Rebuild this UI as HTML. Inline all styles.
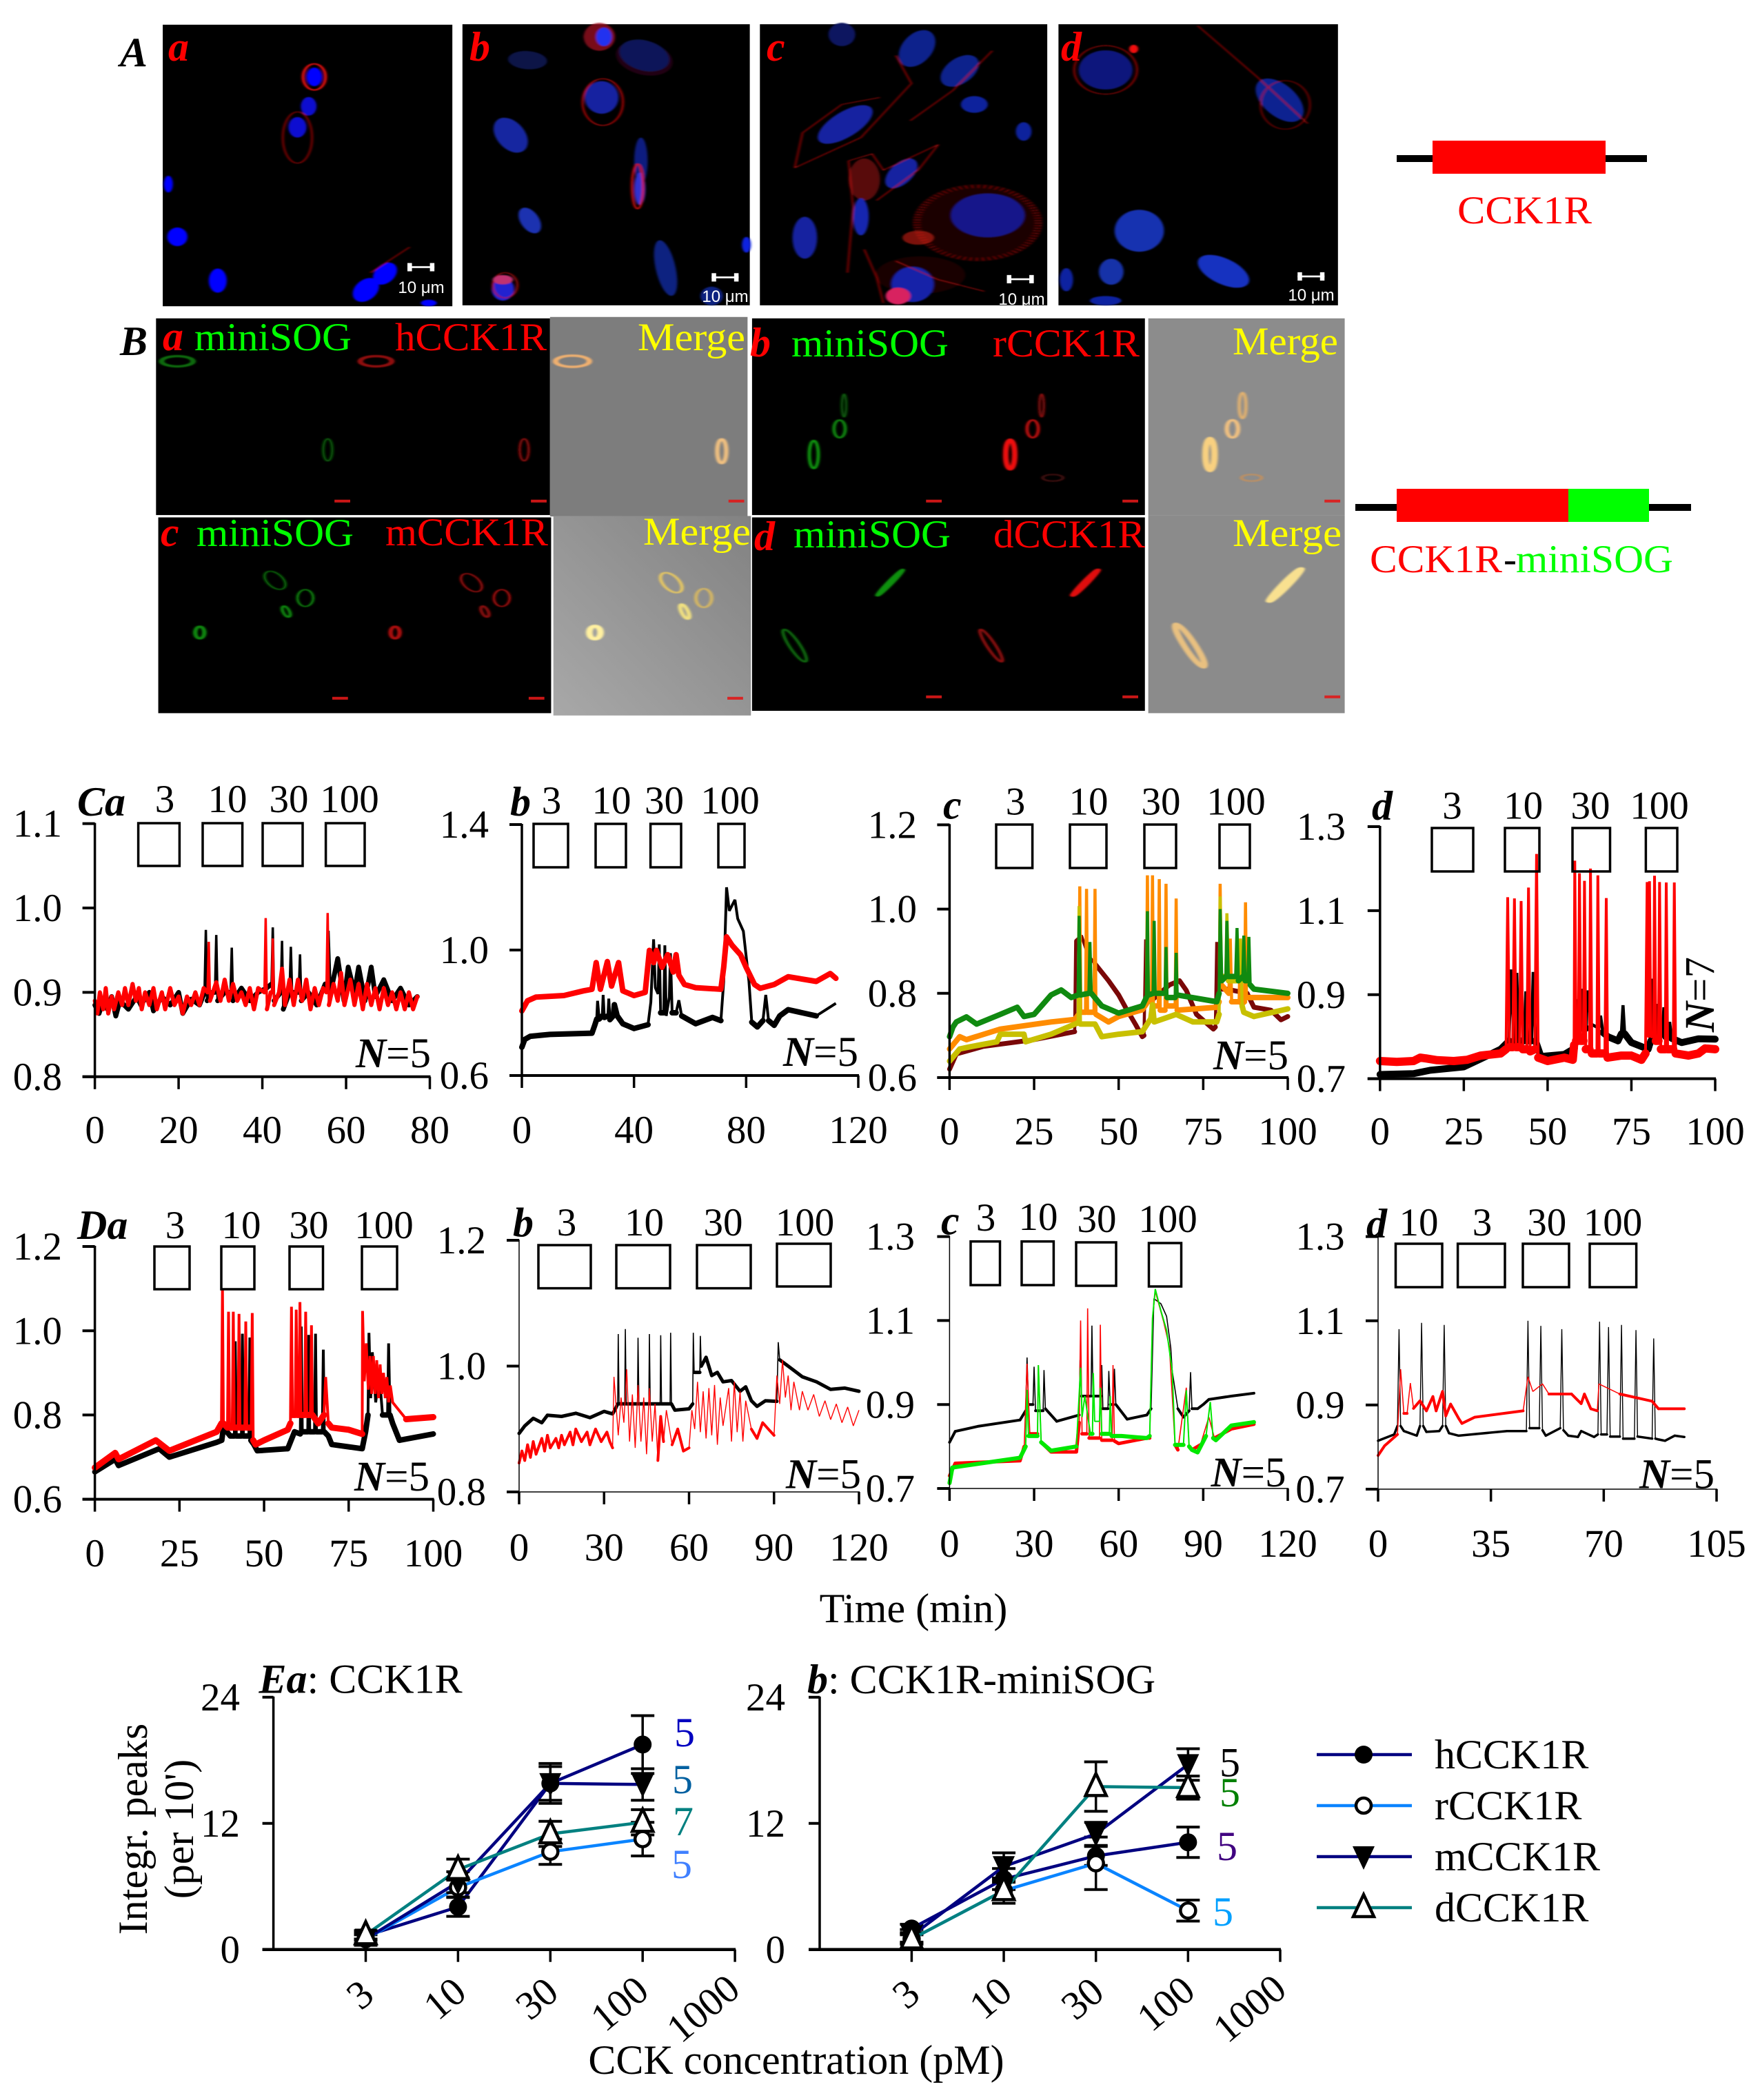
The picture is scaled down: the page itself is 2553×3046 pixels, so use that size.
<!DOCTYPE html>
<html lang="en">
<head>
<meta charset="utf-8">
<title>CCK1R and CCK1R-miniSOG figure</title>
<style>
html,body{margin:0;padding:0;background:#fff}
svg{display:block}
text{font-family:"Liberation Serif",serif;fill:#000}
.big{font-size:57px}
.let{font-size:60px;font-weight:bold;font-style:italic}
.sans{font-family:"Liberation Sans",sans-serif;font-size:24px;fill:#fff}
</style>
</head>
<body>
<svg id="figure" xmlns="http://www.w3.org/2000/svg" width="2553" height="3046" viewBox="0 0 2553 3046">
<defs>
<filter id="soft" x="-20%" y="-20%" width="140%" height="140%"><feGaussianBlur stdDeviation="1.1"/></filter>
<linearGradient id="mergeC" x1="1" y1="0" x2="0" y2="1"><stop offset="0" stop-color="#828282"/><stop offset="1" stop-color="#a8a8a8"/></linearGradient>
</defs>
<rect width="2553" height="3046" fill="#fff"/>
<g id="micro" transform="scale(1.6282,0.6761)"></g>

<g>
<text class="let" x="174" y="96">A</text>
<text class="let" x="244" y="88" style="fill:#f00">a</text>
<text class="let" x="681" y="88" style="fill:#f00">b</text>
<text class="let" x="1112" y="88" style="fill:#f00">c</text>
<text class="let" x="1539" y="88" style="fill:#f00">d</text>
<text class="sans" x="611" y="425" text-anchor="middle">10 μm</text>
<text class="sans" x="1052" y="438" text-anchor="middle">10 μm</text>
<text class="sans" x="1482" y="442" text-anchor="middle">10 μm</text>
<text class="sans" x="1902" y="436" text-anchor="middle">10 μm</text>
</g>

<g>
<text class="let" x="174" y="515">B</text>
<text class="let" x="236" y="508" style="fill:#f00">a</text>
<text class="big" x="282" y="508" textLength="228" lengthAdjust="spacingAndGlyphs" style="fill:#0f0">miniSOG</text>
<text class="big" x="573" y="508" textLength="220" lengthAdjust="spacingAndGlyphs" style="fill:#f00">hCCK1R</text>
<text class="big" x="925" y="508" textLength="156" lengthAdjust="spacingAndGlyphs" style="fill:#ff0">Merge</text>
<text class="let" x="1088" y="517" style="fill:#f00">b</text>
<text class="big" x="1148" y="517" textLength="228" lengthAdjust="spacingAndGlyphs" style="fill:#0f0">miniSOG</text>
<text class="big" x="1440" y="517" textLength="213" lengthAdjust="spacingAndGlyphs" style="fill:#f00">rCCK1R</text>
<text class="big" x="1788" y="514" textLength="153" lengthAdjust="spacingAndGlyphs" style="fill:#ff0">Merge</text>
<text class="let" x="233" y="792" style="fill:#f00">c</text>
<text class="big" x="285" y="792" textLength="228" lengthAdjust="spacingAndGlyphs" style="fill:#0f0">miniSOG</text>
<text class="big" x="559" y="791" textLength="236" lengthAdjust="spacingAndGlyphs" style="fill:#f00">mCCK1R</text>
<text class="big" x="933" y="790" textLength="156" lengthAdjust="spacingAndGlyphs" style="fill:#ff0">Merge</text>
<text class="let" x="1094" y="798" style="fill:#f00">d</text>
<text class="big" x="1151" y="794" textLength="228" lengthAdjust="spacingAndGlyphs" style="fill:#0f0">miniSOG</text>
<text class="big" x="1441" y="794" textLength="220" lengthAdjust="spacingAndGlyphs" style="fill:#f00">dCCK1R</text>
<text class="big" x="1788" y="792" textLength="158" lengthAdjust="spacingAndGlyphs" style="fill:#ff0">Merge</text>
</g>

<g>
<rect x="2026" y="225" width="363" height="10" fill="#000"/>
<rect x="2078" y="204" width="251" height="48" fill="#f00"/>
<text class="big" x="2114" y="324" textLength="195" lengthAdjust="spacingAndGlyphs" style="fill:#f00">CCK1R</text>
</g>
<g>
<rect x="1966" y="731" width="487" height="10" fill="#000"/>
<rect x="2026" y="709" width="249" height="48" fill="#f00"/>
<rect x="2275" y="709" width="117" height="48" fill="#0f0"/>
<text class="big" x="1987" y="830" textLength="192" lengthAdjust="spacingAndGlyphs" style="fill:#f00">CCK1R</text>
<text class="big" x="2181" y="830">-</text>
<text class="big" x="2199" y="830" textLength="228" lengthAdjust="spacingAndGlyphs" style="fill:#0f0">miniSOG</text>
</g>

<g id="traces"></g>
<text x="1325" y="2353" text-anchor="middle" font-size="60">Time (min)</text>
<g id="dose"></g>
</svg>

<script>
/* ---------- Trace data: [time (min), normalised ratio] ---------- */
const caXTicks=['0','20','40','60','80'];
const caYTicks=['0.8','0.9','1.0','1.1'];
const caBlack=[[0,.885],[1,.875],[2,.89],[3,.88],[4,.895],[5,.872],[6,.89],[8,.88],[10,.895],[11,.885],[13,.9],[14,.878],[16,.895],[18,.885],[20,.9],[21,.875],[23,.892],[25,.885],[26.2,.9],[26.5,.974],[26.8,.89],[28,.9],[28.7,.9],[29,.968],[29.3,.89],[31,.9],[32.4,.9],[32.7,.953],[33,.89],[35,.905],[37,.89],[39,.9],[41,.905],[42.2,.91],[42.5,.977],[42.8,.89],[44.4,.9],[44.7,.961],[45,.88],[46.5,.9],[46.8,.954],[47.1,.9],[48.7,.9],[49,.945],[49.3,.89],[51,.9],[53,.885],[55,.91],[55.5,.91],[55.8,.973],[56.3,.9],[58,.94],[59.5,.89],[60.5,.93],[62,.9],[63,.93],[64.5,.89],[66,.93],[67,.895],[69,.915],[71,.89],[73,.905],[75,.885],[77,.895]];
const caRed=[[0,.89],[.6,.875],[1.2,.9],[2,.88],[2.6,.905],[3.2,.875],[4,.895],[4.6,.88],[5.6,.9],[6.5,.885],[7.2,.905],[8,.885],[9,.91],[9.8,.89],[10.5,.905],[11.2,.88],[12,.9],[13,.885],[14,.905],[14.8,.88],[16,.9],[16.8,.88],[18,.905],[19,.885],[20,.895],[21,.875],[22,.895],[23,.885],[24,.9],[25,.885],[26,.905],[26.9,.9],[27.2,.96],[27.5,.89],[29,.912],[30,.89],[31,.915],[32,.89],[33,.91],[34,.89],[35,.9],[36,.885],[37,.905],[38,.88],[39,.905],[40.5,.9],[40.8,.988],[41.1,.88],[42,.9],[42.3,.9],[42.5,.964],[42.8,.885],[44,.9],[44.7,.928],[45.4,.885],[46.5,.915],[47.5,.885],[48.5,.915],[49.5,.89],[50.5,.915],[51.5,.88],[52.5,.905],[53.5,.885],[54.5,.905],[55.3,.9],[55.6,.994],[55.9,.885],[57,.91],[58,.89],[58.8,.923],[59.6,.885],[61,.915],[62,.885],[63,.91],[64,.88],[65,.91],[66,.885],[67,.905],[68,.88],[69,.905],[70,.885],[71,.9],[72,.88],[73,.9],[74,.88],[75,.9],[76,.88],[77,.895]];

const cbXTicks=['0','40','80','120'];
const cbYTicks=['0.6','1.0','1.4'];
const cbBlack=[[0,.69],[1,.715],[3,.725],[10,.731],[25,.735],[26,.76],[26.7,.78],[27,.838],[27.6,.78],[28.7,.79],[29,.857],[29.4,.785],[30.7,.79],[31,.845],[31.4,.778],[32.6,.79],[33,.826],[34,.79],[36,.765],[40,.75],[45,.762],[46,.834],[47,1.034],[47.6,.88],[48.6,.86],[49,1.018],[49.5,.80],[50.6,.80],[51,1.015],[51.5,.79],[52.6,.85],[53,.99],[53.6,.80],[55,.80],[56,.84],[57,.79],[60,.775],[62,.765],[68,.785],[71,.775],[72,.90],[73,1.2],[74,1.125],[76,1.16],[77,1.10],[79,1.06],[81,.90],[82,.77],[84,.755],[86,.775],[87,.857],[88,.775],[90,.76],[92,.79],[95,.81],[105,.79],[112,.83]];
const cbRed=[[0,.806],[2,.838],[5,.85],[15,.855],[22,.87],[25,.875],[26.5,.96],[28,.875],[30.5,.963],[32,.885],[34.5,.96],[36,.87],[40,.855],[44,.865],[45.5,.999],[47,.96],[48,.999],[50,.945],[52,.985],[54,.93],[55,.985],[56,.92],[58,.89],[62,.88],[71,.875],[72,.945],[73,1.042],[75,1.015],[78,.985],[80,.945],[83,.89],[85,.878],[90,.89],[95,.915],[105,.90],[110,.925],[112,.91]];

const ccXTicks=['0','25','50','75','100'];
const ccYTicks=['0.6','0.8','1.0','1.2'];
const ccDarkRed=[[0,.62],[2,.656],[10,.674],[25,.69],[37,.709],[37.3,.925],[39,.937],[41,.89],[43,.87],[47,.83],[50,.796],[52,.767],[55,.726],[57,.697],[57.5,.70],[58,.928],[58.5,.785],[60,.785],[65,.82],[68,.83],[70,.807],[73,.75],[78,.715],[78.6,.72],[79,.922],[79.6,.81],[82,.81],[88,.80],[90,.767],[95,.76],[98,.737],[100,.745]];
const ccOrange=[[0,.668],[3,.697],[5,.69],[15,.715],[30,.732],[37,.738],[38.2,.75],[38.5,1.054],[38.8,.755],[40.2,.755],[40.5,1.048],[40.8,.755],[42.7,.755],[43,1.048],[43.3,.75],[47,.732],[50,.745],[57,.761],[58.2,.775],[58.5,1.08],[58.8,.78],[59.7,.785],[60,1.08],[60.3,.77],[61.7,.77],[62,1.071],[62.3,.76],[63.7,.76],[64,1.06],[64.3,.77],[66.7,.77],[67,1.025],[67.3,.76],[79,.767],[79.7,.78],[80,1.06],[80.4,.82],[82.6,.80],[83,.93],[83.4,.78],[85.6,.78],[86,.93],[86.4,.775],[87.2,.78],[87.5,1.016],[87.8,.79],[100,.79]];
const ccGreen=[[0,.697],[1,.72],[2,.732],[5,.744],[8,.727],[15,.75],[20,.767],[22,.745],[25,.75],[30,.796],[33,.808],[36,.79],[38,.796],[38.3,.984],[38.7,.796],[41.2,.80],[41.5,.922],[41.9,.80],[45,.77],[50,.753],[57,.77],[58.2,.79],[58.5,.995],[58.8,.796],[60.2,.80],[60.5,.972],[60.8,.80],[63.7,.80],[64,.91],[64.3,.79],[66.7,.79],[67,.896],[67.3,.796],[79,.78],[79.7,.80],[80,1.0],[80.5,.83],[81.7,.84],[82,.972],[82.4,.84],[84.6,.84],[85,.955],[85.4,.83],[86.7,.84],[87,.937],[87.4,.83],[88.2,.83],[88.5,.934],[88.9,.82],[90,.81],[100,.80]];
const ccYellow=[[0,.639],[3,.668],[6,.673],[14,.685],[15,.703],[22,.703],[22.5,.685],[30,.703],[38,.73],[38.3,1.007],[38.7,.727],[43,.727],[45,.697],[50,.703],[57,.709],[59.5,.74],[60,.773],[60.5,.732],[67,.75],[72,.732],[79,.732],[79.7,.75],[80,1.03],[80.4,.84],[81.7,.84],[82,.99],[82.5,.83],[85.7,.83],[86,.93],[86.5,.77],[87,.755],[90,.745],[100,.763]];

const cdXTicks=['0','25','50','75','100'];
const cdYTicks=['0.7','0.9','1.1','1.3'];
const cdBlack=[[0,.71],[10,.712],[15,.72],[25,.728],[30,.747],[36,.77],[38.5,.79],[39,.96],[40,.79],[40.5,.79],[40.8,.952],[41.3,.79],[43,.79],[43.5,.908],[44,.79],[45.2,.79],[45.7,.954],[46.4,.79],[48,.753],[55,.758],[58,.772],[58.6,.889],[59.2,.80],[59.7,.80],[60,.914],[60.5,.82],[61.5,.82],[61.9,.91],[63,.83],[65.3,.82],[65.8,.85],[66.5,.81],[68,.80],[71,.79],[72,.807],[72.5,.875],[73,.807],[75,.786],[80,.77],[80.8,.79],[81.2,.938],[81.8,.80],[82.3,.80],[82.6,.878],[83,.80],[84.3,.81],[84.7,.87],[85.2,.80],[86,.81],[86.4,.835],[87,.796],[90,.786],[95,.795],[100,.794]];
const cdRed=[[0,.742],[5,.74],[10,.742],[12,.75],[14,.748],[17,.744],[22,.742],[26,.745],[30,.755],[36,.76],[37.6,.77],[38.1,1.132],[38.6,.775],[39.6,.775],[40.1,1.129],[40.6,.775],[41.6,.775],[42.1,1.123],[42.6,.77],[43.8,.77],[44.3,1.155],[44.8,.765],[46.2,.77],[46.7,1.235],[47.2,.75],[50,.742],[55,.75],[57.5,.745],[57.9,.78],[58.1,1.219],[58.5,.79],[59.2,.79],[59.5,1.189],[59.9,.79],[60.7,.79],[61,1.171],[61.4,.77],[62.5,.77],[62.8,1.2],[63.2,.76],[64.7,.76],[65,1.184],[65.4,.76],[67.1,.76],[67.5,1.13],[67.9,.75],[72,.755],[75,.755],[78,.745],[79.2,.76],[79.7,1.168],[80,.80],[80.2,.80],[80.4,1.17],[80.8,.80],[81.6,.80],[81.9,1.183],[82.3,.79],[83.1,.79],[83.4,1.168],[83.8,.77],[85.1,.77],[85.4,1.167],[85.8,.77],[87.5,.77],[87.8,1.167],[88.2,.76],[92,.755],[95,.76],[97,.772],[100,.77]];

const daXTicks=['0','25','50','75','100'];
const daYTicks=['0.6','0.8','1.0','1.2'];
const daBlack=[[0,.665],[6,.695],[7,.68],[19,.72],[22,.70],[36,.735],[37.5,.74],[38,.77],[40,.75],[41.2,.75],[41.5,.975],[41.8,.75],[43.3,.75],[43.6,.993],[43.9,.75],[45.5,.75],[45.8,.984],[46.1,.74],[47,.73],[48,.715],[57,.72],[59,.76],[60.7,.755],[61,1.01],[61.3,.76],[62.9,.76],[63.2,.99],[63.5,.76],[64.9,.76],[65.2,.993],[65.5,.76],[67.2,.76],[67.5,.955],[67.8,.76],[69,.75],[70,.73],[79,.72],[80,.76],[80.7,.80],[81,.995],[81.5,.84],[82,.949],[83,.83],[84,.90],[85,.80],[86.5,.80],[86.8,.97],[87.2,.80],[88,.78],[90,.74],[100,.755]];
const daRed=[[0,.675],[6,.71],[7,.695],[18,.74],[22,.715],[36,.76],[37.4,.78],[37.7,1.098],[38,.78],[39.2,.77],[39.5,1.045],[39.8,.77],[40.6,.77],[40.9,1.045],[41.2,.77],[42.3,.77],[42.6,1.04],[42.9,.77],[44.3,.77],[44.6,1.022],[44.9,.77],[46.2,.77],[46.5,1.042],[46.8,.74],[47.5,.73],[50,.74],[57,.765],[57.8,.78],[58.1,1.057],[58.4,.80],[59.2,.80],[59.5,1.05],[59.8,.80],[60.3,.80],[60.6,1.068],[60.9,.80],[62,.80],[62.3,1.045],[62.6,.80],[63.7,.80],[64,1.013],[64.3,.80],[66,.78],[67.7,.80],[68.2,.89],[69,.78],[70,.77],[75,.765],[79,.755],[79.1,1.047],[79.6,.88],[80.2,.97],[80.8,.86],[81.3,.94],[81.8,.85],[82.3,.94],[82.8,.85],[83.3,.93],[83.8,.84],[84.3,.92],[84.8,.85],[85.3,.90],[85.8,.84],[86.3,.89],[86.8,.83],[87.3,.87],[88,.83],[89,.82],[92,.79],[100,.795]];

const dbXTicks=['0','30','60','90','120'];
const dbYTicks=['0.8','1.0','1.2'];
const dbBlack=[[0,.893],[2,.905],[5,.917],[8,.91],[10,.922],[15,.92],[20,.925],[25,.918],[30,.928],[33,.924],[34,.932],[34.8,.94],[35,1.051],[35.3,.94],[37.3,.94],[37.5,1.059],[37.8,.94],[41.8,.94],[42,1.045],[42.3,.94],[45.8,.94],[46,1.051],[46.3,.94],[49.8,.94],[50,1.049],[50.3,.94],[53.3,.94],[53.5,1.053],[53.8,.94],[55,.93],[60,.932],[61.3,.94],[61.5,1.053],[61.8,.99],[63.8,.99],[64,1.048],[64.3,1.0],[66,1.014],[68,.985],[70,.99],[72,.975],[75,.977],[78,.96],[80,.967],[82,.945],[84,.936],[87,.945],[91,.944],[91.5,1.038],[92,1.01],[95,1.0],[100,.983],[105,.975],[110,.963],[115,.965],[120,.96]];
const dbRed=[[0,.846],[1,.865],[2,.85],[3,.875],[4,.855],[5,.88],[6,.86],[8,.885],[9,.865],[10,.89],[11,.87],[13,.885],[14,.87],[15,.89],[16,.875],[18,.895],[19,.875],[20,.90],[22,.88],[24,.895],[25,.875],[27,.9],[29,.88],[31,.895],[32,.88],[33,.87],[33.5,.983],[35,.89],[36,.95],[37,.91],[38,.995],[39,.88],[40,.955],[41,.87],[42,.97],[43,.88],[44,.95],[45,.86],[46,.965],[47,.88],[48,.94],[49,.85],[50,.92],[51,.88],[52,.93],[54,.875],[56,.90],[58,.865],[60,.87],[61,.93],[62,.90],[63,.975],[64,.895],[65,.96],[66,.885],[67,.965],[68,.89],[69,.97],[70,.875],[71,.95],[72,.905],[74,.965],[75,.88],[76,.975],[77,.895],[78,.96],[79,.88],[80,.945],[82,.90],[84,.885],[86,.91],[88,.90],[90,.89],[91,.985],[92,.94],[93,1.01],[94,.95],[95,.985],[96,.93],[97,.975],[99,.93],[100,.96],[102,.93],[104,.955],[106,.92],[108,.945],[110,.915],[112,.94],[114,.91],[116,.935],[118,.905],[120,.93]];

const dcXTicks=['0','30','60','90','120'];
const dcYTicks=['0.7','0.9','1.1','1.3'];
const dcBlack=[[0,.81],[2,.836],[10,.848],[25,.863],[27,.885],[27.5,1.012],[28,.90],[29.6,.90],[30,.99],[30.5,.885],[33.2,.885],[33.5,.982],[34,.89],[38,.86],[46,.875],[46.3,1.006],[46.8,.92],[50.2,.92],[50.5,1.088],[50.9,.92],[53.7,.92],[54,.994],[54.4,.89],[56.2,.89],[56.5,.98],[57,.90],[58.2,.90],[58.5,.985],[59,.90],[63,.865],[70,.875],[71.5,.89],[72.5,1.152],[75,1.14],[77,1.11],[78.5,1.035],[79,.98],[81,.89],[83,.87],[85,.885],[85.5,.977],[86,.89],[88,.89],[90,.90],[92,.912],[100,.92],[108,.927]];
const dcRed=[[0,.73],[2,.76],[25,.766],[26.5,.80],[27.5,.997],[28.5,.83],[31.2,.83],[31.5,.994],[32.5,.81],[36,.787],[45,.787],[46,.857],[46.5,1.1],[47,.83],[48.7,.83],[49,1.129],[49.5,.82],[53.2,.82],[53.5,1.09],[54,.815],[57.7,.815],[58,.994],[58.5,.813],[60,.807],[70,.82],[71,.82],[72,1.106],[73,1.17],[76,1.096],[78,1.038],[80,.804],[81,.792],[84,.94],[85,.80],[86,.792],[89,.804],[92,.87],[94,.82],[100,.842],[108,.853]];
const dcGreen=[[0,.713],[1,.75],[25,.773],[27,.80],[27.5,.935],[28,.825],[31.2,.825],[31.5,.994],[32.5,.81],[36,.79],[45,.80],[46.5,.988],[47,.87],[48,.92],[50,.83],[50.7,.83],[51,.975],[51.5,.86],[53.2,.86],[53.5,.94],[54,.83],[56.7,.83],[57,.92],[57.5,.825],[61,.825],[70,.82],[71,.825],[72,1.106],[73,1.175],[75,1.123],[77,1.077],[79,.98],[80,.804],[83,.804],[84,.934],[85,.80],[86,.792],[88,.786],[91,.825],[92.5,.906],[93.5,.82],[94.5,.815],[100,.85],[108,.858]];

const ddXTicks=['0','35','70','105'];
const ddYTicks=['0.7','0.9','1.1','1.3'];
const ddBlack=[[0,.815],[5,.83],[6,.85],[6.5,1.08],[7,.85],[8,.838],[12,.827],[13,.85],[13.5,1.095],[14,.85],[15,.836],[19,.838],[20,.85],[20.5,1.09],[21,.85],[22,.833],[25,.827],[40,.838],[46,.838],[46.5,1.1],[47,.845],[50,.845],[50.5,1.088],[51,.84],[52,.827],[56.5,.845],[57,1.08],[57.5,.84],[59,.827],[62,.824],[63,.838],[67,.824],[68.2,.83],[68.7,1.098],[69.2,.83],[71,.83],[71.5,1.085],[72,.825],[75,.825],[75.5,1.09],[76,.82],[79.5,.82],[80,1.078],[80.5,.825],[85,.82],[85.5,1.058],[86,.82],[87,.818],[89,.815],[92,.827],[95,.824]];
const ddRed=[[0,.78],[2,.803],[6,.83],[7,.985],[8,.88],[9,.88],[10,.952],[11,.892],[13,.91],[15,.886],[17,.92],[18,.886],[20,.932],[21,.874],[22.5,.902],[25,.868],[26,.856],[30,.871],[45,.886],[46.5,.967],[48,.932],[51,.95],[53,.926],[57,.926],[60,.926],[63,.903],[64,.926],[66,.891],[68,.886],[68.5,.95],[75,.926],[85,.909],[87,.891],[95,.891]];

/* ---------- Dose-response data (integrated peaks per 10 min) ---------- */
const doseLabels=['3','10','30','100','1000'];
const doseYTicks=['0','12','24'];
const eaH=[1.3,4.05,15.8,19.5];   const eaHErr=[.4,.9,1.9,2.75];
const eaR=[1,5.9,9.3,10.5];       const eaRErr=[.4,.9,1.2,1.6];
const eaM=[1,6.4,15.8,15.7];      const eaMErr=[.6,1,1.6,1.5];
const eaD=[1.4,7.6,11,12.1];      const eaDErr=[.4,1,1.2,1.2];
const ebH=[2,6.7,8.9,10.2];       const ebHErr=[.4,1,.9,1.45];
const ebR=[1,5.6,8.2,3.7];        const ebRErr=[.4,.8,2.5,1];
const ebM=[1.3,7.9,11,17.6];      const ebMErr=[.6,1.3,1.1,1.5];
const ebD=[1,5.6,15.5,15.4];      const ebDErr=[.5,1.2,2.35,1.1];

/* ---------- Helpers ---------- */
const NS='http://www.w3.org/2000/svg';
function node(parent,tag,name,attrs,text){
  const el=document.createElementNS(NS,tag);
  
  
  for(const k in attrs)el.setAttribute(k,attrs[k]);
  if(text!==undefined)el.textContent=text;
  parent.appendChild(el);
  return el;
}
function center(parent,name,x,cy,str,size,anchor){
  return node(parent,'text',name,{x:x,y:cy+size*.335,'text-anchor':anchor||'middle','font-size':size},str);
}

/* ---------- Microscopy images, drawn in a scaled coordinate system ---------- */
const micro=document.getElementById('micro');
const blackPanels=[['image-a-a',145,53,258,604],['image-a-b',412,52,256,603],['image-a-c',677,52,256,603],['image-a-d',943,52,249,603],
 ['image-b-a-channels',139,683,351,422],['image-b-b-channels',670,683,350,422],['image-b-c-channels',141,1110,350,420],['image-b-d-channels',670,1110,350,415]];
blackPanels.forEach(p=>node(micro,'rect',p[0],{x:p[1],y:p[2],width:p[3],height:p[4],fill:'#000'}));
const grayPanels=[['merge-a',490,680,176,428,'#7d7d7d'],['merge-b',1023,683,175,422,'#8c8c8c'],['merge-c',493,1107,176,428,'url(#mergeC)'],['merge-d',1023,1105,175,425,'#8b8b8b']];
grayPanels.forEach(p=>node(micro,'rect',p[0],{x:p[1],y:p[2],width:p[3],height:p[4],fill:p[5]}));
const soft=node(micro,'g','fluorescent-cells',{filter:'url(#soft)'});
/* cell halos: cx,cy,rx,ry,fill,opacity,tilt */
const redHalos=[[534,79,14,30,'#a01020',.75,0],[574,125,24,38,'#300818',.7,-15],[770,385,14,45,'#a01010',.55,0],[871,478,58,83,'#3a0c0c',.45,0],[818,510,14,15,'#e02010',.55,0],[820,590,40,40,'#300808',.5,20]];
redHalos.forEach(c=>node(soft,'ellipse','red-cytoplasm',{cx:c[0],cy:c[1],rx:c[2],ry:c[3],fill:c[4],opacity:c[5],transform:'rotate('+c[6]+' '+c[0]+' '+c[1]+')'}));
/* nuclei: cx,cy,rx,ry,fill,opacity,tilt */
const blueCells=[[280,165,7,20,'#0000ff',1,0],[275,228,7,20,'#1010d0',1,0],[265,273,8,22,'#1010d0',1,0],[150,395,4,18,'#0000ff',1,0],[158,508,9,20,'#0000ff',1,0],[194,602,8,26,'#0000ff',1,0],[343,587,10,24,'#0000ff',1,10],[326,622,11,26,'#0000ff',1,10],[382,650,7,7,'#0000ff',1,0],
[538,79,7,20,'#2030f0',1,0],[574,119,21,35,'#101860',.9,-15],[536,209,15,35,'#1420a0',1,0],[455,290,14,38,'#1828a0',1,-10],[470,129,17,20,'#0c1450',.9,-20],[571,345,6,50,'#101c80',1,0],[570,405,5,35,'#3030d0',1,0],[472,473,9,28,'#1a30b0',1,-10],[593,575,9,60,'#102080',1,-5],[448,620,10,25,'#2020d0',1,0],[665,525,4,17,'#1020e0',1,0],[634,635,10,20,'#102080',1,0],
[750,74,12,25,'#0c1460',1,0],[817,104,15,40,'#10208c',1,10],[855,152,15,35,'#10208c',1,15],[868,224,12,18,'#10209c',1,0],[912,282,7,20,'#10209c',1,0],[753,267,17,45,'#1424a0',1,25],[803,372,12,33,'#1424a0',1,15],[767,465,7,40,'#1828b0',1,0],[717,510,11,45,'#1424a0',1,0],[880,462,33,47,'#18188a',1,0],[813,610,19,38,'#1424a8',1,0],
[985,150,24,42,'#10187c',1,0],[1140,215,18,48,'#102090',1,-15],[1015,495,22,45,'#1830b0',1,0],[990,583,11,28,'#1830a8',1,0],[1090,582,18,38,'#1830c0',1,-25],[950,600,6,25,'#1020a0',1,0],[985,645,14,10,'#1020a0',1,0]];
blueCells.forEach(c=>node(soft,'ellipse','nucleus',{cx:c[0],cy:c[1],rx:c[2],ry:c[3],fill:c[4],opacity:c[5],transform:'rotate('+c[6]+' '+c[0]+' '+c[1]+')'}));
/* thin membrane rings: cx,cy,rx,ry,width,opacity,dash */
const redRings=[[280,165,10,28,2.5,1,''],[537,219,18,50,1.5,.85,''],[568,400,5,48,2,.85,''],[450,612,11,27,2,.6,''],
[871,478,54,78,7,.4,'1.5 4'],[985,150,28,52,1.5,.7,''],[1145,225,22,52,1.3,.6,''],[265,295,13,55,1.3,.75,'']];
redRings.forEach(c=>node(soft,'ellipse','membrane-stain',{cx:c[0],cy:c[1],rx:c[2],ry:c[3],fill:'none',stroke:'#f01010','stroke-width':c[4],opacity:c[5],'stroke-dasharray':c[6]}));
const redPaths=['M330 585 L365 530','M1067 55 L1120 165 L1165 265','M708 360 L767 295 L812 179 L798 119','M708 360 L715 285 L750 224 L784 209','M811 259 L849 194 L884 109','M756 345 L777 330 L787 365 L836 310 L818 365 L781 430','M756 345 L760 445 L755 585','M770 535 L781 595 L787 650','M798 560 L836 600 L877 625'];
redPaths.forEach(d=>node(soft,'path','cell-outline',{d:d,fill:'none',stroke:'#d01010','stroke-width':1.4,opacity:.75}));
const pinkSpots=[[800,635,11,18,'#d82060'],[448,600,9,10,'#c03070'],[1010,105,4,9,'#f01010']];
pinkSpots.forEach(c=>node(soft,'ellipse','bright-spot',{cx:c[0],cy:c[1],rx:c[2],ry:c[3],fill:c[4]}));
/* B-panel cells: cx,cy,rx,ry,colour,stroke width,tilt */
const rings=[[158,775,14,11,'#0a6a0a',5,0],[292,965,4,24,'#0a6a0a',2,0],[335,775,14,11,'#901010',5,0],[467,965,4,24,'#a01010',2,0],[510,775,15,12,'#f0b070',5,0],[643,968,4,26,'#f0c080',4,0],
[748,920,5,19,'#108a10',3,0],[752,870,2,25,'#0a600a',2,0],[725,975,4,30,'#109a10',3,0],[920,920,5,19,'#c01010',3,0],[928,870,2,25,'#901010',2,0],[900,975,4,32,'#f01010',5,0],[938,1025,9,7,'#401010',3,0],[1098,920,5,19,'#f0c080',4,0],[1107,870,3,28,'#e0b070',3,0],[1078,975,4,35,'#f8d080',6,0],[1115,1025,9,7,'#c09060',3,0],
[245,1245,8,20,'#0a7a0a',2,-15],[272,1283,7,18,'#109a10',2,0],[255,1312,3,12,'#0a8a0a',3,-10],[178,1357,4,13,'#108a10',4,0],[420,1250,8,20,'#b01010',2,-15],[447,1283,7,18,'#c01010',2,0],[432,1312,3,12,'#901010',3,-10],[352,1357,4,13,'#b01010',4,0],[598,1250,8,22,'#e8c860',3,-15],[627,1283,7,20,'#d8b860',3,0],[610,1312,3,16,'#f0e080',4,-10],[530,1357,5,14,'#fff0a0',6,0],
[793,1250,2,30,'#109010',4,22],[708,1385,5,36,'#0a6a0a',3,-15],[967,1250,2,30,'#e01010',5,22],[883,1385,4,36,'#901010',3,-15],[1145,1255,3,38,'#f8e090',6,22],[1060,1385,5,48,'#e8c080',6,-15]];
rings.forEach(c=>node(soft,'ellipse','cell-ring',{cx:c[0],cy:c[1],rx:c[2],ry:c[3],fill:'none',stroke:c[4],'stroke-width':c[5],transform:'rotate('+c[6]+' '+c[0]+' '+c[1]+')'}));
const whiteBars=[[375,573],[646,595],[909,599],[1168,593]];
whiteBars.forEach(b=>{
  node(micro,'rect','scale-bar',{x:b[0]-12,y:b[1]-2,width:24,height:4,fill:'#fff'});
  node(micro,'rect','scale-cap',{x:b[0]-12,y:b[1]-9,width:4,height:18,fill:'#fff'});
  node(micro,'rect','scale-cap',{x:b[0]+8,y:b[1]-9,width:4,height:18,fill:'#fff'});
});
const redBars=[[305,1075],[480,1075],[656,1075],[832,1075],[1007,1075],[1187,1075],[303,1498],[478,1498],[655,1498],[832,1495],[1007,1495],[1187,1495]];
redBars.forEach(b=>node(micro,'rect','small-scale-bar',{x:b[0]-7,y:b[1]-3,width:14,height:6,fill:'#e01818',opacity:.9}));

/* ---------- Trace panels ---------- */
const traces=document.getElementById('traces');
function tracePanel(cfg){
  const g=node(traces,'g',cfg.name,{});
  const sx=v=>cfg.x0+(v-cfg.xMin)*(cfg.x1-cfg.x0)/(cfg.xMax-cfg.xMin);
  const sy=v=>cfg.yBottom+(v-cfg.yMin)*(cfg.yTop-cfg.yBottom)/(cfg.yMax-cfg.yMin);
  cfg.series.forEach(s=>{
    const d=s.data.map((p,i)=>(i?'L':'M')+sx(p[0]).toFixed(1)+' '+sy(p[1]).toFixed(1)).join('');
    /* thicker band along the low part of the trace stands in for recording noise */
    let band='';
    s.data.forEach((p,i)=>{
      if(i&&p[1]<s.cap&&s.data[i-1][1]<s.cap)band+='M'+sx(s.data[i-1][0]).toFixed(1)+' '+sy(s.data[i-1][1]).toFixed(1)+'L'+sx(p[0]).toFixed(1)+' '+sy(p[1]).toFixed(1);
    });
    node(g,'path',s.name+'-noise-band',{d:band,fill:'none',stroke:s.color,'stroke-width':s.band,'stroke-linejoin':'round','stroke-linecap':'round'});
    node(g,'path',s.name,{d:d,fill:'none',stroke:s.color,'stroke-width':s.width,'stroke-linejoin':'bevel'});
  });
  const aw=cfg.axisW;
  node(g,'line','y-axis',{x1:cfg.x0,x2:cfg.x0,y1:cfg.yTop-1,y2:cfg.yBottom+1,stroke:'#000','stroke-width':aw});
  node(g,'line','x-axis',{x1:cfg.x0-18,x2:cfg.x1+1,y1:cfg.yBottom,y2:cfg.yBottom,stroke:'#000','stroke-width':cfg.xAxisW||aw});
  cfg.yTicks.forEach(t=>{
    const y=sy(parseFloat(t));
    node(g,'line','y-tick',{x1:cfg.x0-18,x2:cfg.x0,y1:y,y2:y,stroke:'#000','stroke-width':4});
    center(g,'y-tick-label',cfg.yLabelRight,y,t,57,'end');
  });
  cfg.xTicks.forEach(t=>{
    const x=sx(parseFloat(t));
    node(g,'line','x-tick',{x1:x,x2:x,y1:cfg.yBottom,y2:cfg.yBottom+18,stroke:'#000','stroke-width':3.5});
    center(g,'x-tick-label',x,cfg.xLabelY,t,57);
  });
  cfg.boxes.forEach(b=>{
    node(g,'rect','stimulus-box-'+b[4],{x:b[0],y:b[2],width:b[1]-b[0],height:b[3]-b[2],fill:'none',stroke:'#000','stroke-width':3.5});
    center(g,'stimulus-dose-'+b[4],b[5],b[6],b[4],57);
  });
  node(g,'text','panel-label',{x:cfg.letter[1],y:cfg.letter[2],'font-size':60,'font-weight':'bold','font-style':'italic'},cfg.letter[0]);
  const nAttrs=cfg.nRot?{transform:'translate('+cfg.n[0]+','+cfg.n[1]+') rotate(-90)','font-size':61}:{x:cfg.n[0],y:cfg.n[1],'font-size':61};
  const n=node(g,'text','sample-size',nAttrs);
  node(n,'tspan','sample-n',{'font-style':'italic','font-weight':'bold'},'N');
  node(n,'tspan','sample-value',{},cfg.nText);
}
const BK='#000',RD='#f00';
tracePanel({name:'panel-ca',x0:137.6,x1:623.5,xMin:0,xMax:80,yBottom:1561.8,yTop:1194.6,yMin:.8,yMax:1.1,axisW:3.5,xAxisW:4,xTicks:caXTicks,yTicks:caYTicks,yLabelRight:90,xLabelY:1639,
 series:[{name:'trace-black',data:caBlack,color:BK,width:3.5,band:7,cap:.945},{name:'trace-red',data:caRed,color:RD,width:3.5,band:6,cap:.93}],
 boxes:[[200.6,260.4,1194,1256,'3',239,1159],[294,351.6,1194,1256,'10',330,1159],[381,439,1194,1256,'30',419,1159],[472.6,529,1194,1256,'100',507,1159]],letter:['Ca',112,1183],n:[516,1548],nText:'=5'});
tracePanel({name:'panel-cb',x0:757,x1:1245,xMin:0,xMax:120,yBottom:1560,yTop:1196,yMin:.6,yMax:1.4,axisW:3.5,xAxisW:4,xTicks:cbXTicks,yTicks:cbYTicks,yLabelRight:709,xLabelY:1639,
 series:[{name:'trace-black',data:cbBlack,color:BK,width:4,band:8,cap:.83},{name:'trace-red',data:cbRed,color:RD,width:4.5,band:8,cap:1.05}],
 boxes:[[774,824,1195,1258,'3',800,1161],[864,908,1195,1258,'10',887,1161],[943.6,988,1195,1258,'30',963.5,1161],[1042,1080,1195,1258,'100',1059,1161]],letter:['b',740,1183],n:[1136,1546],nText:'=5'});
tracePanel({name:'panel-cc',x0:1377.4,x1:1868,xMin:0,xMax:100,yBottom:1563,yTop:1196.4,yMin:.6,yMax:1.2,axisW:3.5,xAxisW:4,xTicks:ccXTicks,yTicks:ccYTicks,yLabelRight:1330,xLabelY:1641,
 series:[{name:'trace-dark-red',data:ccDarkRed,color:'#7a0808',width:4.5,band:7,cap:.88},{name:'trace-orange',data:ccOrange,color:'#ff8c00',width:4.5,band:8,cap:.84},{name:'trace-yellow',data:ccYellow,color:'#c8c000',width:4.5,band:8,cap:.85},{name:'trace-green',data:ccGreen,color:'#108a10',width:4.5,band:8,cap:.85}],
 boxes:[[1445,1497.6,1196,1259,'3',1473,1162.5],[1552,1605,1196,1259,'10',1579,1162.5],[1660,1706,1196,1259,'30',1684,1162.5],[1769,1813,1196,1259,'100',1793,1162.5]],letter:['c',1368,1187.5],n:[1760,1551],nText:'=5'});
tracePanel({name:'panel-cd',x0:2001.8,x1:2488,xMin:0,xMax:100,yBottom:1564.6,yTop:1199,yMin:.7,yMax:1.3,axisW:3.5,xAxisW:4,xTicks:cdXTicks,yTicks:cdYTicks,yLabelRight:1952,xLabelY:1641,
 series:[{name:'trace-black',data:cdBlack,color:BK,width:4.5,band:10,cap:.83},{name:'trace-red',data:cdRed,color:RD,width:4,band:12,cap:.80}],
 boxes:[[2077,2137,1201,1264,'3',2106.5,1168.6],[2183,2233,1201,1264,'10',2209.6,1168.6],[2281,2335.5,1201,1264,'30',2307,1168.6],[2387.4,2433,1201,1264,'100',2407,1168.6]],letter:['d',1990,1189],n:[2486,1497],nText:'=7',nRot:true});
tracePanel({name:'panel-da',x0:137.6,x1:628.5,xMin:0,xMax:100,yBottom:2174.6,yTop:1808,yMin:.6,yMax:1.2,axisW:3.5,xAxisW:4,xTicks:daXTicks,yTicks:daYTicks,yLabelRight:90,xLabelY:2253,
 series:[{name:'trace-black',data:daBlack,color:BK,width:4,band:8,cap:.85},{name:'trace-red',data:daRed,color:RD,width:4,band:9,cap:.82}],
 boxes:[[224,275,1808,1870,'3',254,1777],[321,369,1808,1870,'10',350,1777],[420,468.5,1808,1870,'30',448,1777],[525,576,1808,1870,'100',557,1777]],letter:['Da',112,1797],n:[514,2162],nText:'=5'});
tracePanel({name:'panel-db',x0:753,x1:1246,xMin:0,xMax:120,yBottom:2164,yTop:1799,yMin:.8,yMax:1.2,axisW:1.5,xAxisW:1.5,xTicks:dbXTicks,yTicks:dbYTicks,yLabelRight:705,xLabelY:2244.6,
 series:[{name:'trace-black',data:dbBlack,color:BK,width:1.6,band:5,cap:1.02},{name:'trace-red',data:dbRed,color:RD,width:1.4,band:4,cap:.93}],
 boxes:[[781,857,1806,1868.6,'3',822,1773],[894,972,1806,1868.6,'10',934.5,1773],[1011,1089,1806,1868.6,'30',1049,1773],[1127,1205,1804,1866,'100',1167.5,1773]],letter:['b',744,1793.6],n:[1140,2158.6],nText:'=5'});
tracePanel({name:'panel-dc',x0:1377.4,x1:1868,xMin:0,xMax:120,yBottom:2159,yTop:1793.6,yMin:.7,yMax:1.3,axisW:1.5,xAxisW:1.5,xTicks:dcXTicks,yTicks:dcYTicks,yLabelRight:1327,xLabelY:2239,
 series:[{name:'trace-black',data:dcBlack,color:BK,width:1.6,band:4,cap:.96},{name:'trace-red',data:dcRed,color:RD,width:1.6,band:5,cap:.86},{name:'trace-green',data:dcGreen,color:'#00e800',width:2,band:6,cap:.86}],
 boxes:[[1408,1450.5,1800.7,1864,'3',1430,1766],[1482,1528.4,1800.7,1864,'10',1506,1765],[1561,1619,1802,1865,'30',1591,1768],[1666.5,1713.5,1803,1866,'100',1694,1768]],letter:['c',1365,1790.7],n:[1756.6,2156],nText:'=5'});
tracePanel({name:'panel-dd',x0:1999,x1:2490,xMin:0,xMax:105,yBottom:2160,yTop:1793.6,yMin:.7,yMax:1.3,axisW:1.5,xAxisW:1.5,xTicks:ddXTicks,yTicks:ddYTicks,yLabelRight:1950.6,xLabelY:2239,
 series:[{name:'trace-black',data:ddBlack,color:BK,width:1.4,band:3.5,cap:.86},{name:'trace-red',data:ddRed,color:RD,width:1.5,band:4,cap:.94}],
 boxes:[[2024.5,2092,1804,1867,'10',2058,1773],[2114.6,2183,1804,1867,'3',2150,1773],[2209,2276,1804,1867,'30',2243.7,1773],[2306,2373.6,1804,1867,'100',2339.5,1773]],letter:['d',1982,1795],n:[2378,2158.6],nText:'=5'});

/* ---------- Dose-response panels ---------- */
const dose=document.getElementById('dose');
function marker(parent,kind,x,y){
  if(kind==='h')node(parent,'circle','marker-filled-circle',{cx:x,cy:y,r:13,fill:'#000'});
  if(kind==='r')node(parent,'circle','marker-open-circle',{cx:x,cy:y,r:11,fill:'#fff',stroke:'#000','stroke-width':4.5});
  if(kind==='m')node(parent,'path','marker-filled-triangle',{d:'M'+(x-16)+' '+(y-15)+'L'+(x+16)+' '+(y-15)+'L'+x+' '+(y+19)+'Z',fill:'#000'});
  if(kind==='d')node(parent,'path','marker-open-triangle',{d:'M'+x+' '+(y-19)+'L'+(x+15)+' '+(y+13)+'L'+(x-15)+' '+(y+13)+'Z',fill:'#fff',stroke:'#000','stroke-width':4.5});
}
const seriesColor={h:'#000080',r:'#0a84ff',m:'#000080',d:'#008080'};
function dosePanel(cfg){
  const g=node(dose,'g',cfg.name,{});
  const sx=i=>cfg.x0+i*cfg.step;
  const sy=v=>cfg.yZero-v*(cfg.yZero-cfg.yTop)/24;
  node(g,'line','y-axis',{x1:cfg.axisX,x2:cfg.axisX,y1:cfg.yTop-1,y2:cfg.yZero,stroke:'#000','stroke-width':3.5});
  node(g,'line','x-axis',{x1:cfg.axisX-16,x2:sx(4)+1,y1:cfg.yZero,y2:cfg.yZero,stroke:'#000','stroke-width':4.5});
  doseYTicks.forEach(t=>{
    const y=sy(parseFloat(t));
    node(g,'line','y-tick',{x1:cfg.axisX-16,x2:cfg.axisX,y1:y,y2:y,stroke:'#000','stroke-width':4});
    center(g,'y-tick-label',cfg.yLabelRight,y,t,57,'end');
  });
  doseLabels.forEach((t,i)=>{
    const x=sx(i);
    node(g,'line','x-tick',{x1:x,x2:x,y1:cfg.yZero,y2:cfg.yZero+18,stroke:'#000','stroke-width':3.5});
    const c=cfg.labelCenters[i];
    const el=center(g,'x-tick-label',c[0],c[1],t,58);
    el.setAttribute('transform','rotate(-40 '+c[0]+' '+c[1]+')');
  });
  cfg.series.forEach(s=>{
    const d=s.values.map((v,i)=>(i?'L':'M')+sx(i)+' '+sy(v).toFixed(1)).join('');
    s.values.forEach((v,i)=>{
      const e=s.errs[i],x=sx(i),t=sy(v+e),b=sy(v-e),cap=17;
      node(g,'line','error-bar',{x1:x,x2:x,y1:t,y2:b,stroke:'#000','stroke-width':3.5});
      node(g,'line','error-cap',{x1:x-cap,x2:x+cap,y1:t,y2:t,stroke:'#000','stroke-width':4});
      node(g,'line','error-cap',{x1:x-cap,x2:x+cap,y1:b,y2:b,stroke:'#000','stroke-width':4});
    });
    node(g,'path','line-'+s.kind+'cck1r',{d:d,fill:'none',stroke:seriesColor[s.kind],'stroke-width':4.5});
  });
  cfg.series.forEach(s=>s.values.forEach((v,i)=>marker(g,s.kind,sx(i),sy(v))));
  cfg.counts.forEach(c=>{
    const el=center(g,'sample-count',c[0],c[1],c[2],60);
    el.style.fill=c[3];
  });
}
dosePanel({name:'panel-ea',axisX:396.6,x0:530.5,step:133.9,yZero:2827.7,yTop:2461.8,yLabelRight:348,
 labelCenters:[[522,2893],[645,2898.6],[778.6,2898.6],[898.5,2906],[1019.7,2913]],
 series:[{kind:'h',values:eaH,errs:eaHErr},{kind:'r',values:eaR,errs:eaRErr},{kind:'m',values:eaM,errs:eaMErr},{kind:'d',values:eaD,errs:eaDErr}],
 counts:[[993,2513,'5','#0000c0'],[990,2581,'5','#0060a0'],[991,2642,'7','#008080'],[989,2704,'5','#4080ff']]});
dosePanel({name:'panel-eb',axisX:1189,x0:1322.4,step:133.65,yZero:2827.7,yTop:2461.8,yLabelRight:1139,
 labelCenters:[[1314,2892],[1436.7,2898],[1570,2898.6],[1691,2906],[1812.4,2913]],
 series:[{kind:'h',values:ebH,errs:ebHErr},{kind:'r',values:ebR,errs:ebRErr},{kind:'m',values:ebM,errs:ebMErr},{kind:'d',values:ebD,errs:ebDErr}],
 counts:[[1784,2556.6,'5','#000'],[1784,2600,'5','#008000'],[1780,2678,'5','#400080'],[1774,2773,'5','#00a0ff']]});

/* titles */
const ttl1=node(dose,'text','panel-ea-title',{x:375.5,y:2455.6,'font-size':60});
node(ttl1,'tspan','panel-ea-letter',{'font-weight':'bold','font-style':'italic'},'Ea');
node(ttl1,'tspan','panel-ea-name',{},': CCK1R');
const ttl2=node(dose,'text','panel-eb-title',{x:1171,y:2456,'font-size':60});
node(ttl2,'tspan','panel-eb-letter',{'font-weight':'bold','font-style':'italic'},'b');
node(ttl2,'tspan','panel-eb-name',{},': CCK1R-miniSOG');
node(dose,'text','y-axis-title-line-1',{transform:'translate(213,2653) rotate(-90)','text-anchor':'middle','font-size':60},'Integr. peaks');
node(dose,'text','y-axis-title-line-2',{transform:'translate(280,2653) rotate(-90)','text-anchor':'middle','font-size':60},"(per 10')");
node(dose,'text','x-axis-title',{x:1155,y:3008,'text-anchor':'middle','font-size':60},'CCK concentration (pM)');

/* legend */
const legendNames=['hCCK1R','rCCK1R','mCCK1R','dCCK1R'];
const legendKinds=['h','r','m','d'];
const legend=node(dose,'g','legend',{});
legendNames.forEach((t,i)=>{
  const y=2545+i*74;
  const e=node(legend,'g','legend-entry',{});
  node(e,'line','legend-line',{x1:1910,x2:2048,y1:y,y2:y,stroke:seriesColor[legendKinds[i]],'stroke-width':4.5});
  marker(e,legendKinds[i],1978,y);
  center(e,'legend-label',2081,y,t,60,'start');
});
</script>
</body>
</html>
